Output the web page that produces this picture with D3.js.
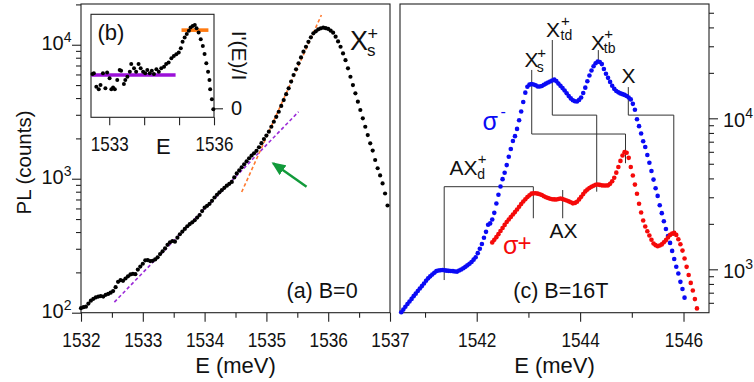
<!DOCTYPE html>
<html>
<head>
<meta charset="utf-8">
<script src="https://cdn.jsdelivr.net/npm/d3@7"></script>
<style>
  body { margin: 0; background: #fff; }
  svg { font-family: "Liberation Sans", Arial, Helvetica, sans-serif; }
</style>
</head>
<body>
<div id="chart"></div>
<script>
// ---- values ----
// (a) B=0 spectrum: [E (meV), PL counts]
const pointsA = [
  [1532.00,108],[1532.04,110],[1532.08,111],[1532.12,117],[1532.16,123],[1532.20,127],[1532.24,130],[1532.28,132],
  [1532.32,133],[1532.36,132],[1532.40,136],[1532.44,138],[1532.48,141],[1532.52,145],[1532.56,155],[1532.60,170],
  [1532.64,175],[1532.68,173],[1532.72,180],[1532.76,187],[1532.80,193],[1532.84,195],[1532.88,194],[1532.92,210],
  [1532.96,221],[1533.00,232],[1533.04,246],[1533.08,247],[1533.12,243],[1533.16,244],[1533.20,250],[1533.24,259],
  [1533.28,274],[1533.32,287],[1533.36,302],[1533.40,321],[1533.44,335],[1533.48,343],[1533.52,339],[1533.56,363],
  [1533.60,385],[1533.64,403],[1533.68,422],[1533.72,442],[1533.76,459],[1533.80,473],[1533.84,490],[1533.88,513],
  [1533.92,536],[1533.96,573],[1534.00,608],[1534.04,628],[1534.08,649],[1534.12,684],[1534.16,724],[1534.20,759],
  [1534.24,791],[1534.28,822],[1534.32,855],[1534.36,887],[1534.40,916],[1534.44,946],[1534.48,1023],[1534.52,1096],
  [1534.56,1153],[1534.60,1216],[1534.64,1282],[1534.68,1349],[1534.72,1422],[1534.76,1489],[1534.80,1549],[1534.84,1614],
  [1534.88,1718],[1534.92,1841],[1534.96,1977],[1535.00,2099],[1535.04,2244],[1535.08,2443],[1535.12,2661],[1535.16,2897],
  [1535.20,3162],[1535.24,3491],[1535.28,3864],[1535.32,4276],[1535.36,4732],[1535.40,5309],[1535.44,5943],[1535.48,6561],
  [1535.52,7261],[1535.56,8035],[1535.60,8872],[1535.64,9661],[1535.68,10520],[1535.72,11350],[1535.76,12160],[1535.80,12590],
  [1535.84,13030],[1535.88,13270],[1535.92,13400],[1535.96,13300],[1536.00,13120],[1536.04,12740],[1536.08,12300],[1536.12,11480],
  [1536.16,10590],[1536.20,9661],[1536.24,8610],[1536.28,7674],[1536.32,6668],[1536.36,5768],[1536.40,5000],[1536.44,4335],
  [1536.48,3758],[1536.52,3258],[1536.56,2825],[1536.60,2443],[1536.64,2118],[1536.68,1837],[1536.72,1622],[1536.76,1380],
  [1536.80,1197],[1536.84,1059],[1536.88,923],[1536.92,776],[1536.96,631]
];
// (b) inset: [E (meV), I'(E)/I (1/meV)]
const pointsB = [
  [1532.52,1.13],[1532.56,1.16],[1532.63,0.71],[1532.70,0.63],[1532.75,0.77],[1532.82,1.16],[1532.89,0.66],[1532.94,1.18],
  [1533.01,0.99],[1533.06,0.63],[1533.11,0.69],[1533.16,0.63],[1533.23,0.93],[1533.30,1.26],[1533.34,1.24],[1533.42,0.80],
  [1533.46,0.93],[1533.52,1.04],[1533.59,1.21],[1533.63,1.46],[1533.71,1.32],[1533.77,1.21],[1533.84,1.46],[1533.90,1.32],
  [1533.97,1.21],[1534.03,1.16],[1534.09,1.26],[1534.16,1.16],[1534.22,1.24],[1534.28,1.13],[1534.35,1.29],[1534.42,1.21],
  [1534.49,1.32],[1534.57,1.37],[1534.63,1.46],[1534.70,1.51],[1534.78,1.65],[1534.85,1.73],[1534.92,1.78],[1534.99,1.84],
  [1535.05,1.98],[1535.10,2.20],[1535.16,2.34],[1535.22,2.45],[1535.28,2.56],[1535.33,2.67],[1535.39,2.72],[1535.45,2.75],
  [1535.50,2.64],[1535.56,2.50],[1535.62,2.28],[1535.68,2.06],[1535.73,1.79],[1535.78,1.49],[1535.83,1.21],[1535.87,0.93],
  [1535.89,0.63],[1535.94,0.30],[1535.98,-0.03]
];
// (c) B=16T, sigma- : [E (meV), counts]
const sigmaMinus = [
  [1540.54,519],[1540.58,541],[1540.62,565],[1540.66,589],[1540.70,612],[1540.74,637],[1540.78,664],[1540.82,690],
  [1540.86,718],[1540.90,746],[1540.94,774],[1540.98,805],[1541.02,840],[1541.06,871],[1541.10,898],[1541.14,923],
  [1541.18,948],[1541.22,973],[1541.26,982],[1541.30,986],[1541.34,989],[1541.38,984],[1541.42,980],[1541.46,977],
  [1541.50,975],[1541.54,973],[1541.58,968],[1541.62,966],[1541.66,982],[1541.70,998],[1541.74,1016],[1541.78,1038],
  [1541.82,1062],[1541.86,1089],[1541.90,1119],[1541.94,1159],[1541.98,1202],[1542.02,1279],[1542.06,1368],[1542.10,1472],
  [1542.14,1618],[1542.18,1770],[1542.22,1972],[1542.26,2014],[1542.30,2138],[1542.34,2366],[1542.38,2729],[1542.42,3119],
  [1542.46,3532],[1542.50,3954],[1542.54,4355],[1542.58,4898],[1542.62,5559],[1542.66,6266],[1542.70,7079],[1542.74,7621],
  [1542.78,8511],[1542.82,9705],[1542.86,11090],[1542.90,12820],[1542.94,14790],[1542.98,16180],[1543.02,16710],[1543.06,16870],
  [1543.10,16750],[1543.14,16560],[1543.18,16260],[1543.22,16260],[1543.26,16370],[1543.30,16670],[1543.34,16980],[1543.38,17260],
  [1543.42,17540],[1543.46,17780],[1543.50,18030],[1543.54,17620],[1543.58,16980],[1543.62,16410],[1543.66,15850],[1543.70,15280],
  [1543.74,14660],[1543.78,14060],[1543.82,13550],[1543.86,13180],[1543.90,12970],[1543.94,12910],[1543.98,13240],[1544.02,13740],
  [1544.06,14720],[1544.10,15960],[1544.14,17580],[1544.18,19190],[1544.22,20750],[1544.26,22130],[1544.30,23170],[1544.34,23770],
  [1544.38,23610],[1544.42,22860],[1544.46,21230],[1544.50,19720],[1544.54,18540],[1544.58,17420],[1544.62,16440],[1544.66,15670],
  [1544.70,15170],[1544.74,14860],[1544.78,14620],[1544.82,14450],[1544.86,14290],[1544.90,14060],[1544.94,13740],[1544.98,13340],
  [1545.02,12470],[1545.06,11400],[1545.10,9863],[1545.14,8872],[1545.18,7925],[1545.22,7047],[1545.26,6457],[1545.30,5715],
  [1545.34,5082],[1545.38,4477],[1545.42,3926],[1545.46,3443],[1545.50,3062],[1545.54,2655],[1545.58,2355],[1545.62,2080],
  [1545.66,1849],[1545.70,1663],[1545.74,1496],[1545.78,1324],[1545.82,1169],[1545.86,1040],[1545.90,938],[1545.94,826],
  [1545.98,740],[1546.02,649]
];
// (c) B=16T, sigma+ : [E (meV), counts]
const sigmaPlus = [
  [1542.30,1507],[1542.34,1567],[1542.38,1633],[1542.42,1710],[1542.46,1795],[1542.50,1879],[1542.54,1968],[1542.58,2056],
  [1542.62,2138],[1542.66,2218],[1542.70,2307],[1542.74,2393],[1542.78,2489],[1542.82,2594],[1542.86,2710],[1542.90,2812],
  [1542.94,2911],[1542.98,3013],[1543.02,3090],[1543.06,3170],[1543.10,3184],[1543.14,3192],[1543.18,3170],[1543.22,3141],
  [1543.26,3105],[1543.30,3048],[1543.34,2999],[1543.38,2965],[1543.42,2931],[1543.46,2911],[1543.50,2904],[1543.54,2897],
  [1543.58,2924],[1543.62,2944],[1543.66,2917],[1543.70,2891],[1543.74,2858],[1543.78,2818],[1543.82,2780],[1543.86,2735],
  [1543.90,2754],[1543.94,2799],[1543.98,2904],[1544.02,3020],[1544.06,3148],[1544.10,3281],[1544.14,3373],[1544.18,3459],
  [1544.22,3524],[1544.26,3573],[1544.30,3631],[1544.34,3648],[1544.38,3622],[1544.42,3597],[1544.46,3589],[1544.50,3589],
  [1544.54,3597],[1544.58,3681],[1544.62,3828],[1544.66,4036],[1544.70,4365],[1544.74,4764],[1544.78,5224],[1544.82,5675],
  [1544.86,5970],[1544.90,5916],[1544.94,5470],[1544.98,4764],[1545.02,4178],[1545.06,3639],[1545.10,3162],[1545.14,2716],
  [1545.18,2377],[1545.22,2104],[1545.26,1919],[1545.30,1786],[1545.34,1675],[1545.38,1570],[1545.42,1483],[1545.46,1445],
  [1545.50,1422],[1545.54,1439],[1545.58,1462],[1545.62,1510],[1545.66,1560],[1545.70,1626],[1545.74,1690],[1545.78,1722],
  [1545.82,1742],[1545.86,1690],[1545.90,1581],[1545.94,1466],[1545.98,1330],[1546.02,1178],[1546.06,1038],[1546.10,916],
  [1546.14,813],[1546.18,724],[1546.22,635],[1546.26,551]
];
// exponential fits in (a) and their slopes in (b)
const fitSlow = [[1532.54, 120], [1535.52, 3160]];
const fitFast = [[1534.60, 796], [1535.89, 16670]];
const levelSlow = [[1532.48, 1.10], [1534.90, 1.10]];
const levelFast = [[1535.07, 2.58], [1535.84, 2.58]];
const arrowA = [[1535.65, 871], [1535.11, 1303]];
// line assignments in (c)
const brackets = [
  [[1543.064, 20900], [1543.064, 7870], [1544.878, 7870], [1544.878, 5040]],
  [[1543.462, 33000], [1543.462, 10500], [1544.321, 10500], [1544.321, 3266]],
  [[1544.352, 28300], [1544.352, 24300]],
  [[1544.932, 16100], [1544.932, 10500], [1545.812, 10500], [1545.812, 1663]],
  [[1541.371, 849], [1541.371, 3525], [1543.095, 3525], [1543.095, 2178]],
  [[1543.663, 3350], [1543.663, 2178]]
];
// ticks
const ticksA = [1532, 1533, 1534, 1535, 1536, 1537];
const minorA = [1532.5, 1533.5, 1534.5, 1535.5, 1536.5];
const ticksC = [1542, 1544, 1546];
const minorC = [1541, 1543, 1545];
const ticksB = [1533, 1534, 1535, 1536];
const labelsB = [1533, 1536];
const decadesA = [100, 1000, 10000];
const minorLogA = [200,300,400,500,600,700,800,900,2000,3000,4000,5000,6000,7000,8000,9000,20000];
const decadesC = [1000, 10000];
const minorLogC = [600,700,800,900,2000,3000,4000,5000,6000,7000,8000,9000,20000,30000,40000,50000];

// ---- drawing ----
const width = 754, height = 382;
const ink = "#222";
const svg = d3.select("#chart").append("svg")
  .attr("width", width)
  .attr("height", height);

const xA = d3.scaleLinear().domain([1532, 1537]).range([81, 390]);
const yA = d3.scaleLog().domain([100, 20140]).range([312.7, 4]);
const xC = d3.scaleLinear().domain([1540.516, 1546.493]).range([400, 709]);
const yC = d3.scaleLog().domain([516, 57150]).range([312.7, 4]);
const xB = d3.scaleLinear().domain([1532.478, 1536]).range([91, 214]);
const yB = d3.scaleLinear().domain([-0.297, 3.102]).range([117.3, 14.3]);

function axis(gen, x, y, values, size, fmt) {
  const g = svg.append("g")
    .attr("transform", "translate(" + x + "," + y + ")")
    .call(gen.tickValues(values).tickSize(size).tickSizeOuter(0).tickFormat(fmt || (() => "")));
  g.attr("font-family", null).attr("font-size", null);
  g.select(".domain").remove();
  g.selectAll("line").attr("stroke", ink).attr("stroke-width", 1.1);
  return g;
}

function txt(x, y, s, size, opts) {
  opts = opts || {};
  return svg.append("text")
    .attr("x", x).attr("y", y)
    .attr("font-size", size)
    .attr("fill", opts.fill || "#111")
    .attr("text-anchor", opts.anchor || "start")
    .text(s);
}

// state label: main letters, then a subscript and a superscript stacked at the same x
function state(x, y, main, size, sub, sup, sx, subY, supY, small) {
  const t = svg.append("text").attr("x", x).attr("y", y).attr("font-size", size).attr("fill", "#111");
  t.append("tspan").text(main);
  if (sup) t.append("tspan").attr("x", sx + 0.5).attr("y", supY).attr("font-size", small + 1).text(sup);
  if (sub) t.append("tspan").attr("x", sx).attr("y", subY).attr("font-size", small).text(sub);
  return t;
}

// frames
svg.append("rect").attr("x", 81).attr("y", 4).attr("width", 309).attr("height", 308.7)
  .attr("fill", "none").attr("stroke", ink).attr("stroke-width", 1.1);
svg.append("rect").attr("x", 400).attr("y", 4).attr("width", 309).attr("height", 308.7)
  .attr("fill", "none").attr("stroke", ink).attr("stroke-width", 1.1);

// ---- panel (a) axes ----
const xAxA = axis(d3.axisBottom(xA).tickPadding(10), 0, 312.7, ticksA, 9, d3.format("d"));
xAxA.selectAll("text").attr("font-size", 21).attr("fill", "#111").attr("transform", "scale(0.82,1)");
axis(d3.axisBottom(xA), 0, 312.7, minorA, 5);
axis(d3.axisLeft(yA), 81, 0, decadesA, 9);
axis(d3.axisLeft(yA), 81, 0, minorLogA, 5);
decadesA.forEach(v => {
  const t = svg.append("text").attr("x", 71.5).attr("y", yA(v) + 5)
    .attr("text-anchor", "end").attr("font-size", 20).attr("fill", "#111");
  t.append("tspan").text("10");
  t.append("tspan").attr("dy", -8).attr("font-size", 14).text(Math.round(Math.log10(v)));
});

// fit lines
const lineA = d3.line().x(d => xA(d[0])).y(d => yA(d[1]));
svg.append("path").attr("d", lineA(fitSlow)).attr("fill", "none")
  .attr("stroke", "#9b2bd8").attr("stroke-width", 1.6).attr("stroke-dasharray", "3.5,2.5");
svg.append("path").attr("d", lineA(fitFast)).attr("fill", "none")
  .attr("stroke", "#ff7a30").attr("stroke-width", 1.6).attr("stroke-dasharray", "3.5,2.5");

// data (a)
svg.append("g").selectAll("circle").data(pointsA).join("circle")
  .attr("cx", d => xA(d[0])).attr("cy", d => yA(d[1])).attr("r", 2.1).attr("fill", "#000");

// arrow
svg.append("defs").append("marker")
  .attr("id", "head").attr("markerUnits", "userSpaceOnUse")
  .attr("viewBox", "0 0 14 12").attr("markerWidth", 14).attr("markerHeight", 12)
  .attr("refX", 12).attr("refY", 6).attr("orient", "auto")
  .append("path").attr("d", "M0,0 L14,6 L0,12 Z").attr("fill", "#119a3a");
svg.append("path").attr("d", lineA(arrowA)).attr("stroke", "#119a3a").attr("stroke-width", 2.4)
  .attr("fill", "none").attr("marker-end", "url(#head)");

// labels (a)
state(350, 50, "X", 27, "s", "+", 367, 56, 39.5, 17);
txt(286.5, 298.3, "(a) B=0", 21.5);
txt(235.5, 372.7, "E (meV)", 22, { anchor: "middle" });
svg.append("text").attr("transform", "translate(30.5,162.5) rotate(-90)")
  .attr("text-anchor", "middle").attr("font-size", 20.5).attr("fill", "#111").text("PL (counts)");

// ---- inset (b) ----
svg.append("rect").attr("x", 91).attr("y", 14.3).attr("width", 123).attr("height", 103)
  .attr("fill", "#fff").attr("stroke", ink).attr("stroke-width", 1.1);
const xAxB = axis(d3.axisBottom(xB).tickPadding(12), 0, 117.3, ticksB, 8,
  d => labelsB.includes(d) ? String(d) : "");
xAxB.selectAll("text").attr("font-size", 20).attr("fill", "#111").attr("transform", "scale(0.85,1)");
const yAxB = axis(d3.axisRight(yB).tickPadding(8), 214, 0, [0], 9, d => String(d));
yAxB.selectAll("text").attr("font-size", 20).attr("fill", "#111");

const lineB = d3.line().x(d => xB(d[0])).y(d => yB(d[1]));
svg.append("path").attr("d", lineB(levelSlow)).attr("stroke", "#9b10d8").attr("stroke-width", 3.6).attr("fill", "none");
svg.append("path").attr("d", lineB(levelFast)).attr("stroke", "#ff7a10").attr("stroke-width", 3.6).attr("fill", "none");
svg.append("g").selectAll("circle").data(pointsB).join("circle")
  .attr("cx", d => xB(d[0])).attr("cy", d => yB(d[1])).attr("r", 2).attr("fill", "#000");

txt(97.5, 40, "(b)", 22);
txt(163.3, 154, "E", 22, { anchor: "middle" });
svg.append("text").attr("transform", "translate(231.5,55.5) rotate(90)")
  .attr("text-anchor", "middle").attr("font-size", 21).attr("fill", "#111").text("I'(E)/I");

// ---- panel (c) axes ----
const xAxC = axis(d3.axisBottom(xC).tickPadding(10), 0, 312.7, ticksC, 9, d3.format("d"));
xAxC.selectAll("text").attr("font-size", 21).attr("fill", "#111").attr("transform", "scale(0.82,1)");
axis(d3.axisBottom(xC), 0, 312.7, minorC, 5);
axis(d3.axisRight(yC), 709, 0, decadesC, 9);
axis(d3.axisRight(yC), 709, 0, minorLogC, 5);
decadesC.forEach(v => {
  const t = svg.append("text").attr("x", 723).attr("y", yC(v) + 9)
    .attr("font-size", 20).attr("fill", "#111");
  t.append("tspan").text("10");
  t.append("tspan").attr("dy", -9).attr("font-size", 14).text(Math.round(Math.log10(v)));
});

// assignment brackets
const lineC = d3.line().x(d => xC(d[0])).y(d => yC(d[1]));
svg.append("g").selectAll("path").data(brackets).join("path")
  .attr("d", lineC).attr("fill", "none").attr("stroke", "#333").attr("stroke-width", 1);

// data (c)
svg.append("g").selectAll("circle").data(sigmaMinus).join("circle")
  .attr("cx", d => xC(d[0])).attr("cy", d => yC(d[1])).attr("r", 2.3).attr("fill", "#0a0af5");
svg.append("g").selectAll("circle").data(sigmaPlus).join("circle")
  .attr("cx", d => xC(d[0])).attr("cy", d => yC(d[1])).attr("r", 2.3).attr("fill", "#f50a0a");

// labels (c)
state(524.5, 67, "X", 21, "s", "+", 536.7, 71.5, 57.5, 14);
state(546, 37, "X", 21, "td", "+", 560.5, 40, 26, 14);
state(591, 50, "X", 21, "tb", "+", 603.8, 53, 39, 14);
txt(621.5, 83.3, "X", 21);
state(449.5, 175, "AX", 21, "d", "+", 477.3, 179, 163.5, 14);
txt(549.5, 238, "AX", 21);
const sm = svg.append("text").attr("x", 482.5).attr("y", 129.5).attr("font-size", 25).attr("fill", "#0a0af5");
sm.append("tspan").text("σ");
sm.append("tspan").attr("x", 500.5).attr("y", 117).attr("font-size", 16).text("-");
const sp = svg.append("text").attr("x", 503).attr("y", 254).attr("font-size", 25).attr("fill", "#f50a0a");
sp.append("tspan").text("σ");
sp.append("tspan").attr("x", 517.5).attr("y", 251).attr("font-size", 24).text("+");
txt(513.3, 298, "(c) B=16T", 21.5);
txt(554.5, 372.7, "E (meV)", 22, { anchor: "middle" });
</script>
</body>
</html>
